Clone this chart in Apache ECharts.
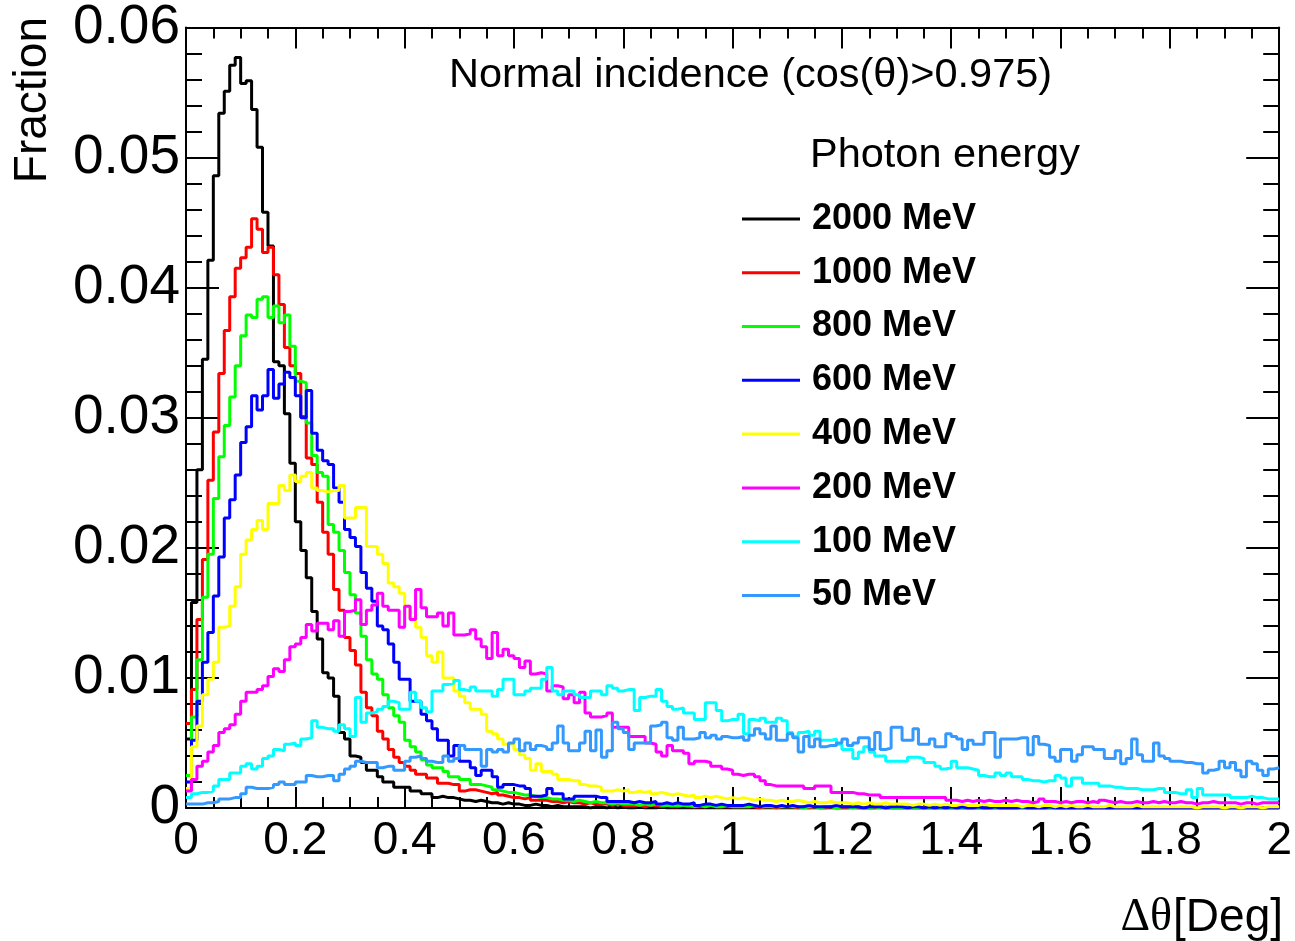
<!DOCTYPE html>
<html>
<head>
<meta charset="utf-8">
<script src="https://cdn.jsdelivr.net/npm/echarts@6/dist/echarts.min.js"></script>
<style>html,body{margin:0;padding:0;background:#fff;}#c{width:1295px;height:941px;}</style>
</head>
<body>
<div id="c"></div>
<script>
const binWidth = 0.01;
const seriesNames = ['2000 MeV','1000 MeV','800 MeV','600 MeV','400 MeV','200 MeV','100 MeV','50 MeV'];
const seriesColors = ['#000000','#ff0000','#00ff00','#0000ff','#ffff00','#ff00ff','#00ffff','#3399ff'];
const xTickLabels = ['0','0.2','0.4','0.6','0.8','1','1.2','1.4','1.6','1.8','2'];
const yTickLabels = ['0','0.01','0.02','0.03','0.04','0.05','0.06'];

const e2000 = [
0.0053,0.0158,0.0260,0.0345,0.0421,0.0486,0.0534,0.0551,0.0571,0.0577,
0.0557,0.0559,0.0537,0.0508,0.0458,0.0432,0.0343,0.0340,0.0303,0.0265,
0.0220,0.0198,0.0177,0.0151,0.0130,0.0104,0.0100,0.0086,0.0058,0.0053,
0.0040,0.0039,0.0035,0.0029,0.0029,0.0024,0.0020,0.0020,0.0016,0.0016,
0.0016,0.0013,0.0013,0.0011,0.0011,0.0008,0.0009,0.0008,0.0008,0.0007,
0.0006,0.0006,0.0005,0.0006,0.0005,0.0004,0.0004,0.0003,0.0004,0.0003,
0.0003,0.0002,0.0002,0.0003,0.0002,0.0002,0.0001,0.0002,0.0001,0.0001,
0.0001,0.0001,0.0001,0,0.0001,0.0001,0,0.0001,0,0.0001,
0,0,0.0001,0,0,0,0.0001,0,0,0,
0,0,0,0,0,0,0,0,0,0,
0,0,0,0,0,0,0,0,0,0,
0,0,0,0,0,0,0,0,0,0,
0,0,0,0,0,0,0,0,0,0,
0,0,0,0,0,0,0,0,0,0,
0,0,0,0,0,0,0,0,0,0,
0,0,0,0,0,0,0,0,0,0,
0,0,0,0,0,0,0,0,0,0,
0,0,0,0,0,0,0,0,0,0,
0,0,0,0,0,0,0,0,0,0,
0,0,0,0,0,0,0,0,0,0];

const e1000 = [
0.0065,0.0091,0.0145,0.0191,0.0252,0.0289,0.0334,0.0367,0.0393,0.0415,
0.0423,0.0431,0.0453,0.0445,0.0427,0.0431,0.0410,0.0387,0.0354,0.0340,
0.0334,0.0301,0.0269,0.0264,0.0235,0.0212,0.0195,0.0168,0.0152,0.0131,
0.0121,0.0110,0.0089,0.0077,0.0071,0.0059,0.0053,0.0045,0.0039,0.0035,
0.0032,0.0029,0.0026,0.0026,0.0023,0.0023,0.0019,0.0019,0.0018,0.0018,
0.0013,0.0014,0.0014,0.0013,0.0012,0.0011,0.0012,0.0010,0.0009,0.0008,
0.0008,0.0007,0.0008,0.0006,0.0006,0.0006,0.0005,0.0005,0.0004,0.0005,
0.0004,0.0004,0.0003,0.0004,0.0003,0.0003,0.0003,0.0002,0.0003,0.0002,
0.0002,0.0002,0.0002,0.0001,0.0002,0.0002,0.0001,0.0002,0.0001,0.0001,
0.0002,0.0001,0.0001,0.0001,0.0001,0.0002,0.0001,0.0001,0.0001,0.0001,
0.0001,0.0001,0.0001,0.0001,0,0.0001,0.0001,0,0.0001,0.0001,
0.0001,0,0.0001,0,0.0001,0,0,0.0001,0,0,
0,0.0001,0,0,0,0,0.0001,0,0,0,
0,0,0,0,0,0,0,0,0,0,
0,0,0,0,0,0,0,0,0,0,
0,0,0,0,0,0,0,0,0,0,
0,0,0,0,0,0,0,0,0,0,
0,0,0,0,0,0,0,0,0,0,
0,0,0,0,0,0,0,0,0,0,
0,0,0,0,0,0,0,0,0,0];

const e800 = [
0.0025,0.0070,0.0114,0.0162,0.0195,0.0238,0.0270,0.0294,0.0316,0.0340,
0.0363,0.0379,0.0377,0.0391,0.0393,0.0377,0.0386,0.0373,0.0379,0.0355,
0.0328,0.0327,0.0296,0.0271,0.0258,0.0255,0.0218,0.0212,0.0198,0.0181,
0.0164,0.0150,0.0132,0.0114,0.0103,0.0099,0.0087,0.0077,0.0071,0.0066,
0.0052,0.0047,0.0043,0.0037,0.0033,0.0031,0.0031,0.0028,0.0024,0.0024,
0.0022,0.0022,0.0018,0.0018,0.0017,0.0016,0.0014,0.0013,0.0012,0.0012,
0.0011,0.0010,0.0010,0.0009,0.0008,0.0008,0.0007,0.0007,0.0006,0.0006,
0.0005,0.0006,0.0005,0.0004,0.0005,0.0004,0.0004,0.0003,0.0004,0.0003,
0.0003,0.0003,0.0002,0.0003,0.0002,0.0003,0.0002,0.0002,0.0002,0.0002,
0.0002,0.0002,0.0001,0.0002,0.0001,0.0002,0.0001,0.0001,0.0002,0.0001,
0.0001,0.0001,0.0001,0.0002,0.0001,0.0001,0.0001,0.0001,0.0001,0.0001,
0.0001,0.0001,0,0.0001,0.0001,0,0.0001,0.0001,0,0.0001,
0.0001,0,0.0001,0,0,0.0001,0,0.0001,0,0,
0,0.0001,0,0,0,0,0.0001,0,0,0,
0,0,0,0,0,0,0,0,0,0,
0,0,0,0,0,0,0,0,0,0,
0,0,0,0,0,0,0,0,0,0,
0,0,0,0,0,0,0,0,0,0,
0,0,0,0,0,0,0,0,0,0,
0,0,0,0,0,0,0,0,0,0];

const e600 = [
0.0020,0.0052,0.0082,0.0112,0.0135,0.0163,0.0193,0.0223,0.0237,0.0256,
0.0281,0.0293,0.0317,0.0306,0.0317,0.0337,0.0315,0.0326,0.0335,0.0331,
0.0317,0.0300,0.0321,0.0288,0.0275,0.0267,0.0264,0.0246,0.0235,0.0214,
0.0208,0.0201,0.0181,0.0169,0.0159,0.0140,0.0137,0.0126,0.0112,0.0099,
0.0099,0.0082,0.0082,0.0072,0.0067,0.0061,0.0052,0.0052,0.0040,0.0048,
0.0036,0.0036,0.0031,0.0025,0.0029,0.0029,0.0024,0.0016,0.0018,0.0018,
0.0017,0.0017,0.0015,0.0009,0.0009,0.0010,0.0015,0.0011,0.0011,0.0007,
0.0007,0.0009,0.0009,0.0009,0.0009,0.0008,0.0008,0.0005,0.0005,0.0005,
0.0005,0.0004,0.0005,0.0004,0.0004,0.0005,0.0003,0.0004,0.0003,0.0004,
0.0003,0.0003,0.0004,0.0002,0.0003,0.0003,0.0002,0.0003,0.0002,0.0002,
0.0002,0.0002,0.0003,0.0002,0.0001,0.0002,0.0002,0.0001,0.0002,0.0001,
0.0002,0.0001,0.0001,0.0002,0.0001,0.0001,0.0001,0.0001,0.0002,0.0001,
0.0001,0.0001,0.0001,0,0.0001,0.0001,0.0001,0,0.0001,0.0001,
0.0001,0,0.0001,0.0001,0,0.0001,0,0.0001,0,0.0001,
0,0.0001,0,0,0.0001,0,0,0.0001,0,0,
0,0,0.0001,0,0,0,0,0.0001,0,0,
0,0,0,0,0,0,0,0,0,0,
0,0,0,0,0,0,0,0,0,0,
0,0,0,0,0,0,0,0,0,0,
0,0,0,0,0,0,0,0,0,0];

const e400 = [
0.0015,0.0047,0.0063,0.0087,0.0099,0.0112,0.0139,0.0140,0.0155,0.0170,
0.0195,0.0206,0.0214,0.0221,0.0214,0.0234,0.0234,0.0248,0.0244,0.0256,
0.0251,0.0255,0.0258,0.0246,0.0244,0.0243,0.0244,0.0244,0.0248,0.0223,
0.0223,0.0231,0.0231,0.0201,0.0201,0.0195,0.0188,0.0173,0.0170,0.0165,
0.0155,0.0146,0.0139,0.0131,0.0117,0.0112,0.0120,0.0100,0.0100,0.0090,
0.0086,0.0081,0.0076,0.0076,0.0072,0.0059,0.0057,0.0053,0.0049,0.0049,
0.0045,0.0041,0.0038,0.0029,0.0034,0.0028,0.0028,0.0026,0.0022,0.0022,
0.0021,0.0021,0.0018,0.0017,0.0017,0.0016,0.0013,0.0013,0.0014,0.0013,
0.0014,0.0012,0.0013,0.0012,0.0013,0.0011,0.0012,0.0011,0.0010,0.0011,
0.0010,0.0009,0.0010,0.0008,0.0009,0.0008,0.0009,0.0008,0.0007,0.0008,
0.0007,0.0008,0.0007,0.0006,0.0007,0.0006,0.0006,0.0005,0.0006,0.0005,
0.0005,0.0006,0.0005,0.0004,0.0005,0.0004,0.0004,0.0005,0.0004,0.0004,
0.0004,0.0003,0.0004,0.0003,0.0004,0.0003,0.0003,0.0004,0.0003,0.0003,
0.0003,0.0003,0.0002,0.0003,0.0003,0.0002,0.0003,0.0002,0.0003,0.0002,
0.0002,0.0003,0.0002,0.0002,0.0002,0.0003,0.0002,0.0002,0.0002,0.0002,
0.0002,0.0002,0.0001,0.0002,0.0002,0.0001,0.0002,0.0002,0.0001,0.0002,
0.0001,0.0002,0.0001,0.0001,0.0002,0.0001,0.0001,0.0001,0.0002,0.0001,
0.0001,0.0001,0.0001,0.0002,0.0001,0.0001,0.0001,0.0001,0.0001,0.0001,
0.0001,0.0001,0.0001,0.0001,0,0.0001,0.0001,0.0001,0.0001,0,
0.0001,0.0001,0,0.0001,0.0001,0.0001,0,0.0001,0.0001,0.0001];

const e200 = [
0.0013,0.0022,0.0032,0.0036,0.0043,0.0048,0.0058,0.0061,0.0064,0.0072,
0.0082,0.0089,0.0089,0.0091,0.0094,0.0101,0.0107,0.0105,0.0114,0.0124,
0.0126,0.0131,0.0141,0.0136,0.0142,0.0142,0.0137,0.0144,0.0132,0.0151,
0.0152,0.0160,0.0141,0.0152,0.0156,0.0165,0.0155,0.0152,0.0152,0.0139,
0.0155,0.0145,0.0168,0.0154,0.0147,0.0147,0.0150,0.0140,0.0150,0.0133,
0.0133,0.0134,0.0137,0.0130,0.0124,0.0115,0.0135,0.0117,0.0122,0.0117,
0.0115,0.0108,0.0113,0.0103,0.0104,0.0103,0.0090,0.0094,0.0093,0.0084,
0.0087,0.0081,0.0089,0.0073,0.0070,0.0070,0.0071,0.0073,0.0062,0.0062,
0.0062,0.0055,0.0055,0.0055,0.0050,0.0049,0.0043,0.0040,0.0048,0.0044,
0.0044,0.0042,0.0034,0.0036,0.0036,0.0035,0.0032,0.0032,0.0030,0.0029,
0.0026,0.0025,0.0026,0.0026,0.0024,0.0021,0.0018,0.0017,0.0017,0.0017,
0.0017,0.0017,0.0017,0.0015,0.0015,0.0017,0.0017,0.0017,0.0012,0.0012,
0.0012,0.0012,0.0011,0.0011,0.0010,0.0010,0.0010,0.0008,0.0008,0.0008,
0.0008,0.0008,0.0008,0.0008,0.0008,0.0008,0.0008,0.0008,0.0008,0.0006,
0.0006,0.0005,0.0006,0.0005,0.0006,0.0005,0.0006,0.0005,0.0005,0.0006,
0.0005,0.0006,0.0005,0.0005,0.0004,0.0005,0.0007,0.0005,0.0005,0.0004,
0.0005,0.0004,0.0005,0.0005,0.0004,0.0005,0.0004,0.0006,0.0005,0.0004,
0.0005,0.0004,0.0004,0.0005,0.0004,0.0004,0.0005,0.0004,0.0005,0.0004,
0.0004,0.0005,0.0004,0.0004,0.0003,0.0004,0.0004,0.0005,0.0004,0.0004,
0.0004,0.0004,0.0003,0.0004,0.0004,0.0003,0.0004,0.0004,0.0004,0.0004];

const e100 = [
0.0008,0.0011,0.0012,0.0012,0.0013,0.0017,0.0022,0.0022,0.0027,0.0027,
0.0032,0.0034,0.0030,0.0032,0.0038,0.0040,0.0045,0.0044,0.0049,0.0050,
0.0048,0.0053,0.0054,0.0067,0.0062,0.0061,0.0061,0.0059,0.0064,0.0061,
0.0055,0.0085,0.0066,0.0073,0.0074,0.0076,0.0078,0.0082,0.0081,0.0076,
0.0076,0.0089,0.0082,0.0077,0.0074,0.0090,0.0090,0.0095,0.0096,0.0098,
0.0091,0.0090,0.0093,0.0090,0.0090,0.0090,0.0086,0.0091,0.0099,0.0099,
0.0087,0.0087,0.0090,0.0092,0.0092,0.0099,0.0108,0.0090,0.0087,0.0090,
0.0090,0.0087,0.0085,0.0085,0.0090,0.0090,0.0087,0.0094,0.0092,0.0090,
0.0091,0.0091,0.0075,0.0085,0.0086,0.0086,0.0091,0.0082,0.0078,0.0076,
0.0077,0.0073,0.0073,0.0068,0.0068,0.0081,0.0081,0.0075,0.0067,0.0068,
0.0068,0.0072,0.0057,0.0068,0.0067,0.0069,0.0066,0.0066,0.0069,0.0067,
0.0058,0.0055,0.0058,0.0059,0.0056,0.0059,0.0052,0.0052,0.0053,0.0049,
0.0045,0.0045,0.0038,0.0043,0.0047,0.0043,0.0040,0.0040,0.0036,0.0036,
0.0036,0.0036,0.0039,0.0039,0.0038,0.0035,0.0035,0.0032,0.0030,0.0031,
0.0036,0.0031,0.0031,0.0030,0.0029,0.0025,0.0024,0.0024,0.0027,0.0025,
0.0027,0.0024,0.0024,0.0022,0.0021,0.0021,0.0020,0.0021,0.0021,0.0025,
0.0023,0.0017,0.0023,0.0023,0.0019,0.0019,0.0019,0.0017,0.0017,0.0016,
0.0016,0.0015,0.0015,0.0015,0.0014,0.0014,0.0014,0.0015,0.0015,0.0012,
0.0012,0.0011,0.0011,0.0014,0.0008,0.0015,0.0010,0.0010,0.0010,0.0010,
0.0010,0.0008,0.0008,0.0008,0.0009,0.0008,0.0008,0.0007,0.0007,0.0007];

const e50 = [
0.0003,0.0003,0.0003,0.0004,0.0004,0.0005,0.0007,0.0007,0.0008,0.0008,
0.0011,0.0016,0.0015,0.0015,0.0015,0.0016,0.0018,0.0020,0.0018,0.0018,
0.0020,0.0020,0.0025,0.0024,0.0024,0.0025,0.0025,0.0021,0.0026,0.0030,
0.0032,0.0036,0.0035,0.0035,0.0035,0.0031,0.0032,0.0032,0.0029,0.0029,
0.0036,0.0039,0.0040,0.0038,0.0036,0.0035,0.0035,0.0040,0.0036,0.0038,
0.0048,0.0045,0.0045,0.0045,0.0032,0.0045,0.0043,0.0045,0.0043,0.0050,
0.0053,0.0044,0.0050,0.0045,0.0048,0.0047,0.0045,0.0050,0.0063,0.0050,
0.0044,0.0044,0.0050,0.0059,0.0044,0.0060,0.0039,0.0044,0.0066,0.0061,
0.0058,0.0045,0.0050,0.0050,0.0050,0.0063,0.0064,0.0066,0.0054,0.0052,
0.0062,0.0053,0.0053,0.0054,0.0058,0.0054,0.0056,0.0053,0.0055,0.0054,
0.0054,0.0055,0.0052,0.0056,0.0061,0.0057,0.0053,0.0063,0.0052,0.0052,
0.0057,0.0054,0.0043,0.0055,0.0047,0.0053,0.0047,0.0048,0.0048,0.0050,
0.0053,0.0048,0.0050,0.0054,0.0054,0.0045,0.0058,0.0045,0.0046,0.0062,
0.0062,0.0052,0.0052,0.0061,0.0049,0.0049,0.0053,0.0047,0.0047,0.0057,
0.0055,0.0053,0.0045,0.0052,0.0049,0.0049,0.0058,0.0058,0.0039,0.0053,
0.0053,0.0053,0.0054,0.0054,0.0041,0.0055,0.0049,0.0048,0.0039,0.0036,
0.0045,0.0045,0.0036,0.0041,0.0047,0.0047,0.0045,0.0045,0.0038,0.0038,
0.0044,0.0034,0.0038,0.0053,0.0041,0.0036,0.0036,0.0050,0.0040,0.0038,
0.0036,0.0036,0.0035,0.0035,0.0034,0.0034,0.0027,0.0029,0.0030,0.0036,
0.0031,0.0035,0.0029,0.0024,0.0036,0.0034,0.0029,0.0025,0.0030,0.0031];

const seriesValues = [e2000, e1000, e800, e600, e400, e200, e100, e50];

const FONT = '"Liberation Sans", Arial, Helvetica, sans-serif';

function histSteps(vals) {
  const d = vals.map((v, i) => [i * binWidth, v]);
  d.push([vals.length * binWidth, vals[vals.length - 1]]);
  return d;
}

const chart = echarts.init(document.getElementById('c'), null, {renderer: 'canvas'});

const axisLineStyle = {color: '#000', width: 2};
function xAxisDef(pos, showLabels) {
  return {
    type: 'value', position: pos, min: 0, max: 2, interval: 0.2,
    axisLine: {show: true, onZero: false, lineStyle: axisLineStyle},
    axisTick: {show: true, inside: true, length: 21, lineStyle: {color: '#000', width: 2}},
    minorTick: {show: true, splitNumber: 4, length: 11, lineStyle: {color: '#000', width: 2}},
    splitLine: {show: false},
    axisLabel: {
      show: showLabels, margin: 10, color: '#000', fontSize: 46, fontFamily: FONT,
      formatter: v => xTickLabels[Math.round(v / 0.2)]
    }
  };
}
function yAxisDef(pos, showLabels) {
  return {
    type: 'value', position: pos, min: 0, max: 0.06, interval: 0.01,
    axisLine: {show: true, onZero: false, lineStyle: axisLineStyle},
    axisTick: {show: true, inside: true, length: 33, lineStyle: {color: '#000', width: 2}},
    minorTick: {show: true, splitNumber: 5, length: 16, lineStyle: {color: '#000', width: 2}},
    splitLine: {show: false},
    axisLabel: {
      show: showLabels, margin: 6, color: '#000', fontSize: 55, fontFamily: FONT,
      formatter: v => yTickLabels[Math.round(v / 0.01)]
    }
  };
}

const option = {
  animation: false,
  backgroundColor: '#fff',
  grid: {left: 186, right: 11, top: 26, bottom: 133, containLabel: false},
  xAxis: [xAxisDef('bottom', true), xAxisDef('top', false)],
  yAxis: [yAxisDef('left', true), yAxisDef('right', false)],
  legend: {
    orient: 'vertical', left: 742, top: 192, padding: 0,
    itemWidth: 58, itemHeight: 3, itemGap: 0, icon: 'rect',
    data: seriesNames,
    textStyle: {fontSize: 36, fontWeight: 'bold', fontFamily: FONT, color: '#000', lineHeight: 53.8, padding: [0, 0, 0, 7]}
  },
  series: seriesNames.map((name, k) => ({
    name: name, type: 'line', step: 'end', symbol: 'none', showSymbol: false,
    xAxisIndex: 0, yAxisIndex: 0,
    color: seriesColors[k],
    lineStyle: {color: seriesColors[k], width: 3},
    emphasis: {disabled: true},
    data: histSteps(seriesValues[k])
  })),
  graphic: [
    {type: 'text', x: 449, y: 76, style: {text: 'Normal incidence (cos(θ)>0.975)', font: '41.5px ' + FONT, fill: '#000', textAlign: 'left', textVerticalAlign: 'middle'}},
    {type: 'text', x: 810, y: 156, style: {text: 'Photon energy', font: '41.5px ' + FONT, fill: '#000', textAlign: 'left', textVerticalAlign: 'middle'}},
    {type: 'text', x: 33, y: 17, rotation: Math.PI / 2, style: {text: 'Fraction', font: '46px ' + FONT, fill: '#000', textAlign: 'right', textVerticalAlign: 'middle'}},
    {type: 'text', x: 1283, y: 918, style: {text: '[Deg]', font: '46px ' + FONT, fill: '#000', textAlign: 'right', textVerticalAlign: 'middle'}},
    {type: 'text', x: 1172, y: 918, style: {text: 'Δθ', font: '46px "Liberation Serif", "Times New Roman", serif', fill: '#000', textAlign: 'right', textVerticalAlign: 'middle'}}
  ]
};
chart.setOption(option);
</script>
</body>
</html>
